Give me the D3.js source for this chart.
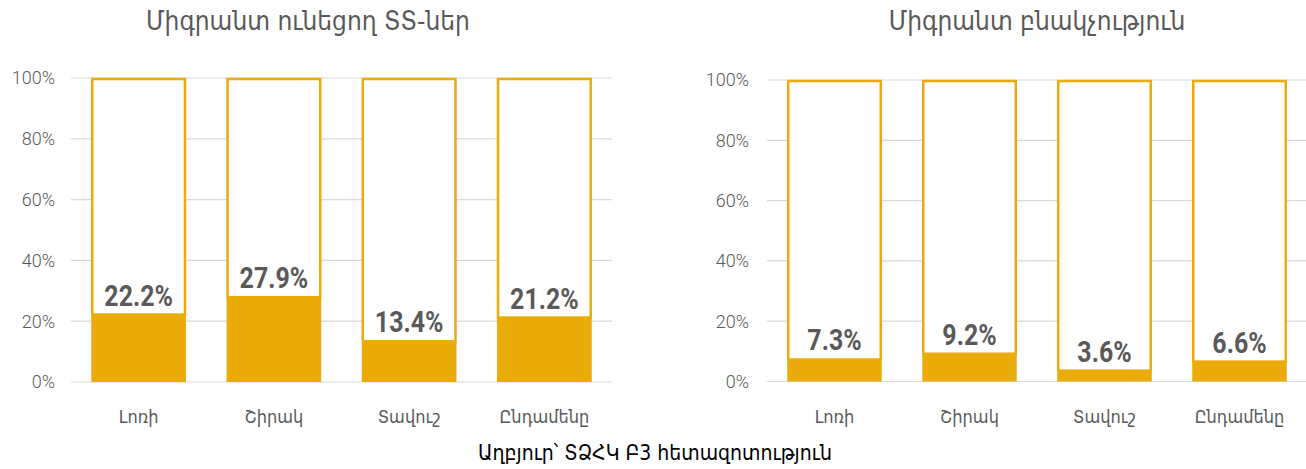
<!DOCTYPE html>
<html><head><meta charset="utf-8">
<script src="https://cdn.jsdelivr.net/npm/d3@7"></script>
<style>
body{margin:0;background:#fff;}
svg{display:block;}
</style></head>
<body><svg id="c" width="1306" height="469"></svg>
<script>
const categories = ["Լոռի", "Շիրակ", "Տավուշ", "Ընդամենը"];
const householdsValues = [22.2, 27.9, 13.4, 21.2];
const populationValues = [7.3, 9.2, 3.6, 6.6];
const yTicks = [0, 20, 40, 60, 80, 100];
const titles = ["Միգրանտ ունեցող ՏՏ-ներ", "Միգրանտ բնակչություն"];
const sourceText = "Աղբյուր՝ ՏՁՀԿ Բ3 հետազոտություն";

const svg = d3.select("#c");
const gold = "#EBAC0B";
const grey = "#595959";
const armFont = "'DejaVu Sans Condensed','DejaVu Sans',sans-serif";
const numFont = "'Roboto',sans-serif";

const panels = [
  {values: householdsValues, title: titles[0], x0: 71, x1: 612, yTop: 78, yBot: 382, titleX: 308, tickX: 55},
  {values: populationValues, title: titles[1], x0: 767, x1: 1307, yTop: 80, yBot: 381.5, titleX: 1037, tickX: 749}
];

panels.forEach(p => {
  const g = svg.append("g");
  const x = d3.scaleBand().domain(categories).range([p.x0, p.x1]).paddingInner(0.3).paddingOuter(0.15);
  const y = d3.scaleLinear().domain([0, 100]).range([p.yBot, p.yTop]);

  g.append("g").selectAll("line").data(yTicks).join("line")
    .attr("x1", p.x0).attr("x2", p.x1)
    .attr("y1", d => y(d)).attr("y2", d => y(d))
    .attr("stroke", "#d9d9d9").attr("stroke-width", 1.2);

  g.append("g").selectAll("text").data(yTicks).join("text")
    .attr("x", p.tickX).attr("y", d => y(d)).attr("dy", "0.35em")
    .attr("text-anchor", "end")
    .attr("font-family", numFont).attr("font-weight", 300).attr("font-size", 18).attr("fill", grey)
    .text(d => d + "%");

  g.append("g").selectAll("rect").data(p.values).join("rect")
    .attr("x", (d, i) => x(categories[i]) + 1)
    .attr("width", x.bandwidth() - 2)
    .attr("y", y(100) + 1)
    .attr("height", d => y(d) - y(100) - 1)
    .attr("fill", "#fff").attr("stroke", gold).attr("stroke-width", 2.5);

  g.append("g").selectAll("rect").data(p.values).join("rect")
    .attr("x", (d, i) => x(categories[i]))
    .attr("width", x.bandwidth())
    .attr("y", d => y(d))
    .attr("height", d => y(0) - y(d))
    .attr("fill", gold);

  g.append("g").selectAll("text").data(p.values).join("text")
    .attr("transform", (d, i) => `translate(${x(categories[i]) + x.bandwidth() / 2},${y(d) - 9}) scale(0.86,1)`)
    .attr("text-anchor", "middle")
    .attr("font-family", numFont).attr("font-weight", "bold").attr("font-size", 29)
    .attr("fill", grey)
    .text(d => d.toFixed(1) + "%");

  g.append("g").selectAll("text").data(categories).join("text")
    .attr("x", d => x(d) + x.bandwidth() / 2)
    .attr("y", 423)
    .attr("text-anchor", "middle")
    .attr("font-family", armFont).attr("font-size", 18).attr("fill", grey)
    .text(d => d);

  g.append("text")
    .attr("x", p.titleX).attr("y", 30)
    .attr("text-anchor", "middle")
    .attr("font-family", armFont).attr("font-size", 26).attr("fill", grey)
    .text(p.title);
});

svg.append("text")
  .attr("x", 655).attr("y", 460)
  .attr("text-anchor", "middle")
  .attr("font-family", armFont).attr("font-size", 21).attr("fill", "#000")
  .text(sourceText);
</script></body></html>
